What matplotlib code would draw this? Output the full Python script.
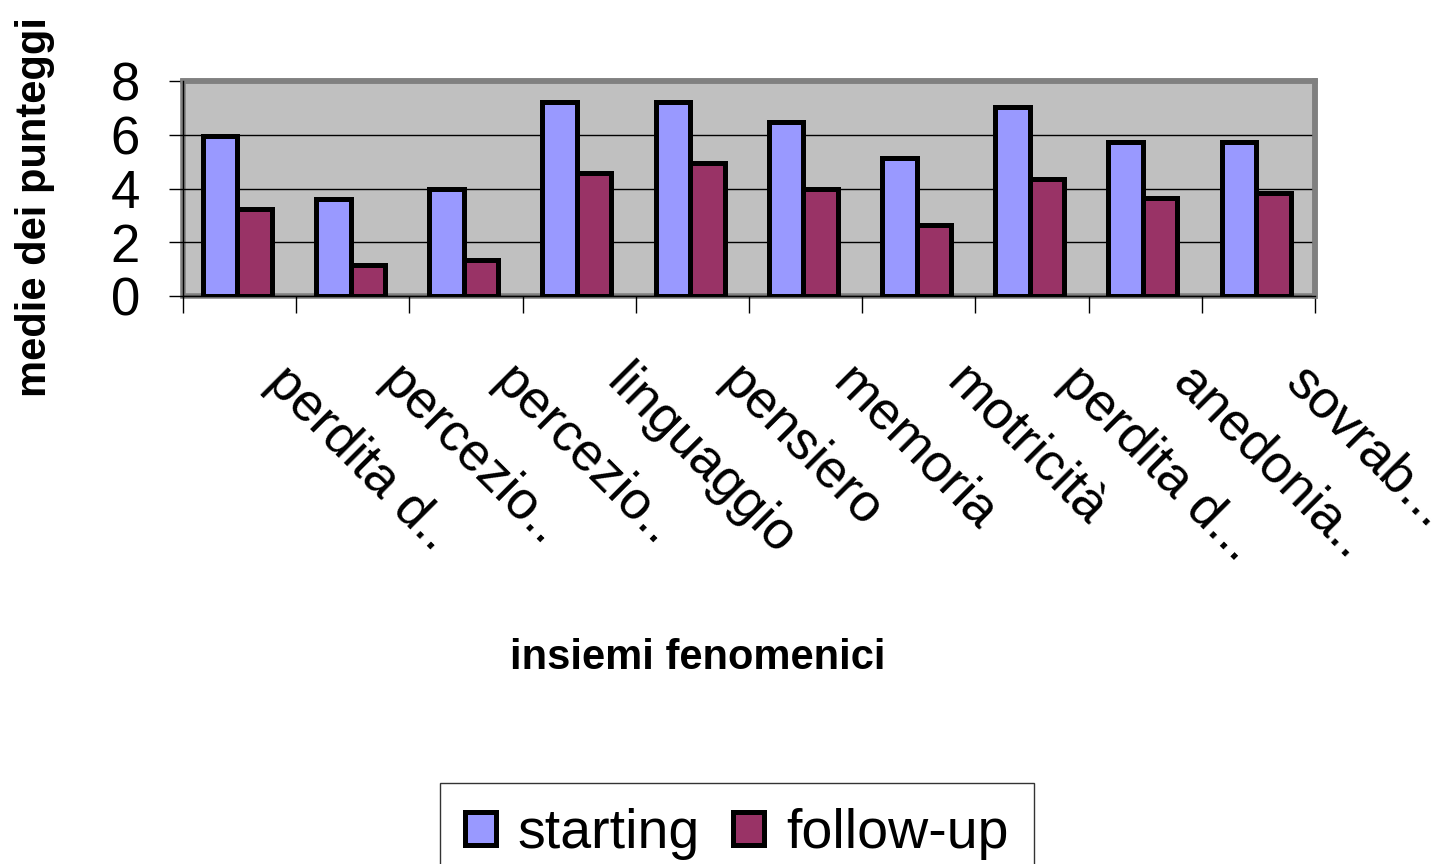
import matplotlib
matplotlib.use("Agg")
import matplotlib.pyplot as plt
import matplotlib.transforms as mtransforms
import numpy as np

plt.rcParams['font.family'] = ['Liberation Sans', 'DejaVu Sans']

categorie = ["perdita d..", "percezio..", "percezio..", "linguaggio", "pensiero",
             "memoria", "motricità", "perdita d...", "anedonia..", "sovrab..."]
starting = [5.95, 3.62, 4.0, 7.23, 7.23, 6.47, 5.14, 7.05, 5.72, 5.72]
follow_up = [3.24, 1.14, 1.33, 4.56, 4.95, 4.0, 2.66, 4.37, 3.63, 3.82]
yticks = [0, 2, 4, 6, 8]

col_start = '#9999FF'
col_follow = '#993366'

fig = plt.figure(figsize=(14.36, 8.64), dpi=100)
ax = fig.add_axes([183/1436, 1 - 296/864, (1315 - 183)/1436, (296 - 81)/864])

x = np.arange(len(categorie)) + 0.48
w = 0.305
b1 = ax.bar(x - w/2, starting, w, color=col_start, edgecolor='black',
            linewidth=3.6, label='starting', zorder=3)
b2 = ax.bar(x + w/2, follow_up, w, color=col_follow, edgecolor='black',
            linewidth=3.6, label='follow-up', zorder=3)

ax.set_xlim(0, len(categorie))
ax.set_ylim(0, 8)
ax.set_facecolor('#C0C0C0')
# grey plot-area border, black axis lines on left and bottom
ax.patch.set_edgecolor('#808080')
ax.patch.set_linewidth(4)
for s in ['top', 'right']:
    ax.spines[s].set_color('#808080')
    ax.spines[s].set_linewidth(4)
for s in ['left', 'bottom']:
    ax.spines[s].set_color('black')
    ax.spines[s].set_linewidth(1)
    ax.spines[s].set_zorder(4)

ax.set_yticks(yticks)
ax.set_yticklabels([str(v) for v in yticks], fontsize=38)
ax.yaxis.grid(True, color='black', linewidth=1, zorder=1)
ax.tick_params(axis='y', direction='out', length=10, width=1, pad=21)

# ticks between categories, labels at category centres
ax.set_xticks(np.arange(len(categorie) + 1))
ax.set_xticklabels([])
ax.tick_params(axis='x', which='major', direction='out', length=12, width=1)
ax.set_xticks(np.arange(len(categorie)) + 0.5, minor=True)
ax.set_xticklabels(categorie, minor=True, fontsize=38.5, rotation=-45,
                   ha='left', va='top', rotation_mode='anchor')
ax.tick_params(axis='x', which='minor', length=0, pad=44)
offset = mtransforms.ScaledTranslation(53/100, 0, fig.dpi_scale_trans)
for lab in ax.get_xticklabels(minor=True):
    lab.set_transform(lab.get_transform() + offset)

fig.text(698/1436, 1 - 658/864, 'insiemi fenomenici', fontsize=30,
         fontweight='bold', ha='center', va='center')
fig.text(35/1436, 1 - 207/864, 'medie dei punteggi', fontsize=30,
         fontweight='bold', ha='center', va='center', rotation=90)

leg = fig.legend(handles=[b1, b2], loc='upper left',
                 bbox_to_anchor=(440/1436, 1 - 783/864), ncol=2,
                 fontsize=40, frameon=True, fancybox=False, shadow=False,
                 handlelength=0.55, handleheight=0.55, handletextpad=0.4,
                 columnspacing=0.6, borderpad=0.45, borderaxespad=0)
leg.get_frame().set_edgecolor('black')
leg.get_frame().set_linewidth(1)

fig.savefig('out.png', dpi=100)
